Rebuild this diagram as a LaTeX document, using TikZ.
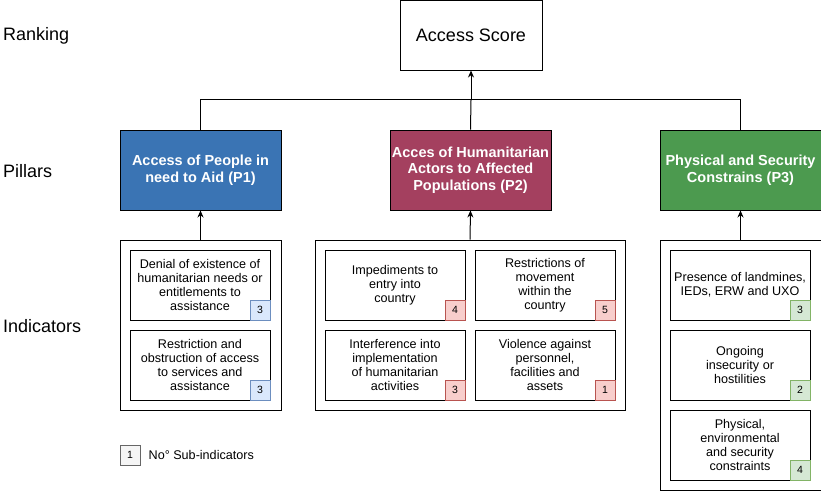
\documentclass[tikz,border=0pt]{standalone}
\usepackage{fontspec}
\setmainfont{Liberation Sans}
\usepackage{xcolor}
\usetikzlibrary{arrows.meta, positioning}
\definecolor{PillarBlue}{HTML}{3A74B4}
\definecolor{PillarRose}{HTML}{A4405F}
\definecolor{PillarGreen}{HTML}{4C9A4F}
\definecolor{BadgeBlue}{HTML}{DAE8FC}
\definecolor{BadgeBlueLine}{HTML}{6C8EBF}
\definecolor{BadgeRed}{HTML}{F8CECC}
\definecolor{BadgeRedLine}{HTML}{B85450}
\definecolor{BadgeGreen}{HTML}{D5E8D4}
\definecolor{BadgeGreenLine}{HTML}{82B366}
\definecolor{BadgeGrey}{HTML}{F5F5F5}
\definecolor{BadgeGreyLine}{HTML}{666666}
\tikzset{
    % plain boxes
    box/.style={
        rectangle,
        draw=black,
        fill=white,
        line width=1pt,
        inner sep=0pt,
        align=center
    },
    score box/.style={
        box,
        minimum width=142pt,
        minimum height=70pt,
        font=\fontsize{18}{21}\selectfont
    },
    pillar/.style={
        box,
        minimum width=161pt,
        minimum height=80pt,
        text=white,
        font=\fontsize{14.5}{16.5}\selectfont\bfseries
    },
    group box/.style={
        box,
        minimum width=161pt,
        minimum height=170pt
    },
    indicator/.style={
        box,
        minimum width=140pt,
        minimum height=70pt,
        font=\fontsize{12.6}{14}\selectfont
    },
    badge/.style={
        rectangle,
        line width=1pt,
        minimum size=20pt,
        inner sep=0pt,
        font=\fontsize{10.5}{12}\selectfont
    },
    badge blue/.style={badge, fill=BadgeBlue, draw=BadgeBlueLine},
    badge red/.style={badge, fill=BadgeRed, draw=BadgeRedLine},
    badge green/.style={badge, fill=BadgeGreen, draw=BadgeGreenLine},
    badge grey/.style={badge, fill=BadgeGrey, draw=BadgeGreyLine},
    row label/.style={
        anchor=west,
        inner sep=0pt,
        font=\fontsize{18}{21}\selectfont
    },
    arrow style/.style={
        -{Stealth[length=7pt,width=6pt]},
        line width=1pt,
        black
    }
}

\begin{document}
\begin{tikzpicture}[x=1pt, y=-1pt]
        \useasboundingbox (0,0) rectangle (821,491);

        % Row labels
        \node[row label] (lrank) at (3,36) {Ranking};
        \node[row label] (lpill) at (3,171) {Pillars};
        \node[row label] (lind) at (3,326) {Indicators};

        % Ranking
        \node[score box] (score) at (471,35) {Access Score};

        % Pillars
        \node[pillar, fill=PillarBlue] (p1) at (200.5,170) {Access of People in\\need to Aid (P1)};
        \node[pillar, fill=PillarRose] (p2) at (470.5,170) {Acces of Humanitarian\\Actors to Affected\\Populations (P2)};
        \node[pillar, fill=PillarGreen] (p3) at (740.5,170) {Physical and Security\\Constrains (P3)};

        % Links up to the score
        \draw[line width=1pt] (p1.north) -- ++(0,-30) -| (p3.north);
        \coordinate (join) at (471,100);
        \draw[line width=1pt] (p2.north) -- (join);
        \draw[arrow style] (join) -- (score.south);

        % Indicator groups
        \node[group box] (g1) at (200.5,325) {};
        \node[group box, minimum width=310pt] (g2) at (470,325) {};
        \node[group box, minimum height=250pt] (g3) at (740.5,365) {};

        \draw[arrow style] (g1.north) -- (p1.south);
        \draw[arrow style] (g2.north) -- (p2.south);
        \draw[arrow style] (g3.north) -- (p3.south);

        % P1 indicators
        \node[indicator] (i11) at (200,285) {Denial of existence of\\humanitarian needs or\\entitlements to\\assistance};
        \node[indicator] (i12) at (200,365) {Restriction and\\obstruction of access\\to services and\\assistance};
        \node[badge blue, anchor=south east] (b11) at (i11.south east) {3};
        \node[badge blue, anchor=south east] (b12) at (i12.south east) {3};

        % P2 indicators
        \node[indicator] (i21) at (395,285) {Impediments to\\entry into\\country};
        \node[indicator] (i22) at (545,285) {Restrictions of\\movement\\within the\\country};
        \node[indicator] (i23) at (395,365) {Interference into\\implementation\\of humanitarian\\activities};
        \node[indicator] (i24) at (545,365) {Violence against\\personnel,\\facilities and\\assets};
        \node[badge red, anchor=south east] (b21) at (i21.south east) {4};
        \node[badge red, anchor=south east] (b22) at (i22.south east) {5};
        \node[badge red, anchor=south east] (b23) at (i23.south east) {3};
        \node[badge red, anchor=south east] (b24) at (i24.south east) {1};

        % P3 indicators
        \node[indicator] (i31) at (740,285) {Presence of landmines,\\IEDs, ERW and UXO};
        \node[indicator] (i32) at (740,365) {Ongoing\\insecurity or\\hostilities};
        \node[indicator] (i33) at (740,445) {Physical,\\environmental\\and security\\constraints};
        \node[badge green, anchor=south east] (b31) at (i31.south east) {3};
        \node[badge green, anchor=south east] (b32) at (i32.south east) {2};
        \node[badge green, anchor=south east] (b33) at (i33.south east) {4};

        % Legend
        \node[badge grey] (key) at (130,455) {1};
        \node[right=8pt of key, inner sep=0pt, font=\fontsize{12.6}{14}\selectfont] (keytext) {No° Sub-indicators};
    \end{tikzpicture}
\end{document}
